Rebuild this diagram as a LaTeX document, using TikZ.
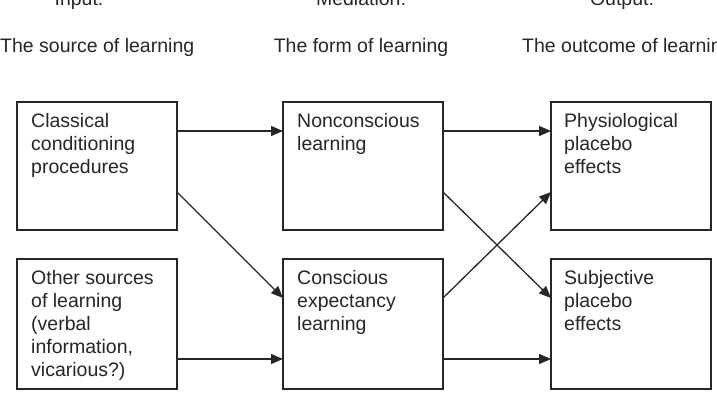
\documentclass[tikz,border=0pt]{standalone}
\usepackage{fontspec}
\setmainfont{Liberation Sans}
\usetikzlibrary{arrows.meta}

\begin{document}
\begin{tikzpicture}[x=1pt,y=-1pt,>={Triangle[length=12pt,width=10pt]},
  box/.style={draw=black!85,line width=1.4pt,minimum width=160pt,minimum height=128pt,
    inner sep=0pt,outer sep=0pt,anchor=north west},
  tallbox/.style={box,minimum height=130pt},
  txt/.style={anchor=north west,inner sep=0pt,align=left,
    font=\fontsize{19.5}{23}\selectfont,text=black!85},
  head/.style={inner sep=0pt,font=\fontsize{19.5}{23}\selectfont,text=black!85},
  link/.style={->,line width=1.3pt,draw=black!85}]
  \useasboundingbox (0,0) rectangle (717,410);
  \clip (0,0) rectangle (717,410);
  % column headings
  \node[head,anchor=base] (hin) at (79,5) {Input:};
  \node[head,anchor=base] (hmed) at (361,5) {Mediation:};
  \node[head,anchor=base] (hout) at (622,5) {Output:};
  \node[head,anchor=base west] (sin) at (0,52) {The source of learning};
  \node[head,anchor=base] (smed) at (361,52) {The form of learning};
  \node[head,anchor=base west] (sout) at (522,52) {The outcome of learning};
  % input
  \node[box] (cc) at (17,102) {};
  \node[txt] (cct) at ([xshift=14pt,yshift=-11pt]cc.north west) {Classical\\conditioning\\procedures};
  \node[tallbox] (os) at (17,259) {};
  \node[txt] (ost) at ([xshift=14pt,yshift=-11pt]os.north west) {Other sources\\of learning\\(verbal\\information,\\vicarious?)};
  % mediation
  \node[box] (nc) at (283,102) {};
  \node[txt] (nct) at ([xshift=14pt,yshift=-11pt]nc.north west) {Nonconscious\\learning};
  \node[tallbox] (ce) at (283,259) {};
  \node[txt] (cet) at ([xshift=14pt,yshift=-11pt]ce.north west) {Conscious\\expectancy\\learning};
  % output
  \node[box] (pp) at (551,102) {};
  \node[txt] (ppt) at ([xshift=13pt,yshift=-11pt]pp.north west) {Physiological\\placebo\\effects};
  \node[tallbox] (sp) at (551,259) {};
  \node[txt] (spt) at ([xshift=13pt,yshift=-11pt]sp.north west) {Subjective\\placebo\\effects};
  % arrows
  \draw[link] ([yshift=-29pt]cc.north east) -- ([yshift=-29pt]nc.north west);
  \draw[link] ([yshift=-90pt]cc.north east) -- ([yshift=-39pt]ce.north west);
  \draw[link] ([yshift=-100pt]os.north east) -- ([yshift=-100pt]ce.north west);
  \draw[link] ([yshift=-29pt]nc.north east) -- ([yshift=-29pt]pp.north west);
  \draw[link] ([yshift=-90pt]nc.north east) -- ([yshift=-39pt]sp.north west);
  \draw[link] ([yshift=-39pt]ce.north east) -- ([yshift=-90pt]pp.north west);
  \draw[link] ([yshift=-100pt]ce.north east) -- ([yshift=-100pt]sp.north west);
\end{tikzpicture}
\end{document}
